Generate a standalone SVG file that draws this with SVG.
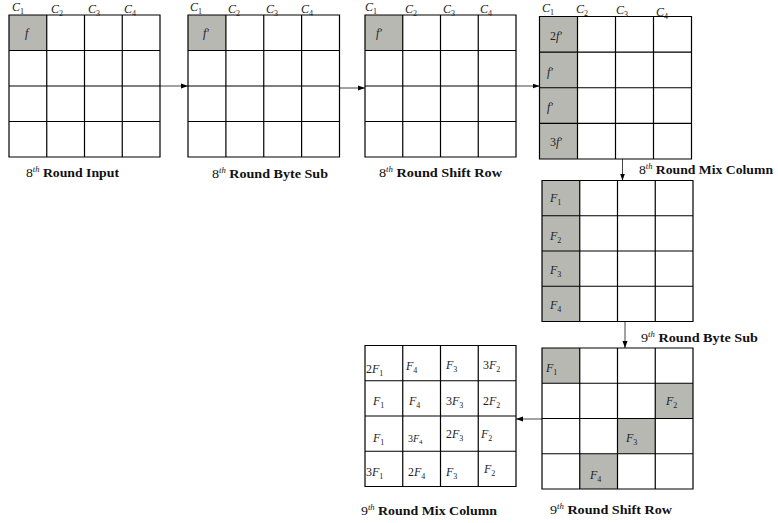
<svg xmlns="http://www.w3.org/2000/svg" width="778" height="523" viewBox="0 0 778 523" font-family="Liberation Serif, DejaVu Serif, serif">
<style>
.bg{fill:#ffffff}
.ln{fill:none;stroke:#000;stroke-width:1.2}
.sh{fill:#b7b8b2}
.conn{fill:none;stroke:#444;stroke-width:1}
.m{font-style:italic;font-size:12px;fill:#222}
.c{font-style:italic;font-size:12px;fill:#222}
.sub{font-size:8px;font-style:normal}
.num{font-style:normal}
.lab{font-size:13px;font-weight:bold;fill:#111}
.sup{font-size:8px;font-style:italic;font-weight:normal}
.n{font-weight:normal}
</style>
<defs>
<marker id="ah" markerWidth="7" markerHeight="6" refX="7" refY="3" orient="auto" markerUnits="userSpaceOnUse">
<path d="M0,0.5 L7,3 L0,5.5 Z" fill="#000"/>
</marker>
</defs>
<rect class="bg" x="0" y="0" width="778" height="523"/>

<g id="conn">
<line class="conn" x1="160" y1="86" x2="188" y2="86" marker-end="url(#ah)"/>
<line class="conn" x1="339.5" y1="88" x2="365" y2="88" marker-end="url(#ah)"/>
<line class="conn" x1="516" y1="86" x2="539.5" y2="86" marker-end="url(#ah)"/>
<line class="conn" x1="622.5" y1="159" x2="622.5" y2="180.5" marker-end="url(#ah)"/>
<line class="conn" x1="625" y1="321.5" x2="625" y2="348" marker-end="url(#ah)"/>
<line class="conn" x1="542" y1="419" x2="516" y2="419" marker-end="url(#ah)"/>
</g>

<g id="grid1">
<rect class="sh" x="9" y="15" width="37.75" height="35.5"/>
<path class="ln" d="M9,15H160V157H9Z M46.75,15V157 M84.5,15V157 M122.25,15V157 M9,50.5H160 M9,86H160 M9,121.5H160"/>
<text class="c" x="12" y="11">C<tspan class="sub" dy="2.5">1</tspan></text>
<text class="c" x="51" y="13">C<tspan class="sub" dy="2.5">2</tspan></text>
<text class="c" x="88" y="13">C<tspan class="sub" dy="2.5">3</tspan></text>
<text class="c" x="124" y="13">C<tspan class="sub" dy="2.5">4</tspan></text>
<text class="m" x="25" y="37">f</text>
<text class="lab" x="26" y="177" textLength="93" lengthAdjust="spacingAndGlyphs"><tspan class="n">8</tspan><tspan class="sup" dy="-5">th</tspan><tspan dy="5"> Round Input</tspan></text>
</g>

<g id="grid2">
<rect class="sh" x="188" y="15" width="37.9" height="35.5"/>
<path class="ln" d="M188,15H339.5V157H188Z M225.9,15V157 M263.75,15V157 M301.6,15V157 M188,50.5H339.5 M188,86H339.5 M188,121.5H339.5"/>
<text class="c" x="190" y="11">C<tspan class="sub" dy="2.5">1</tspan></text>
<text class="c" x="228" y="13">C<tspan class="sub" dy="2.5">2</tspan></text>
<text class="c" x="266" y="13">C<tspan class="sub" dy="2.5">3</tspan></text>
<text class="c" x="301" y="13">C<tspan class="sub" dy="2.5">4</tspan></text>
<text class="m" x="203" y="37">f′</text>
<text class="lab" x="212" y="178" textLength="116" lengthAdjust="spacingAndGlyphs"><tspan class="n">8</tspan><tspan class="sup" dy="-5">th</tspan><tspan dy="5"> Round Byte Sub</tspan></text>
</g>

<g id="grid3">
<rect class="sh" x="365" y="15" width="37.75" height="35.5"/>
<path class="ln" d="M365,15H516V157H365Z M402.75,15V157 M440.5,15V157 M478.25,15V157 M365,50.5H516 M365,86H516 M365,121.5H516"/>
<text class="c" x="365" y="11">C<tspan class="sub" dy="2.5">1</tspan></text>
<text class="c" x="405" y="13">C<tspan class="sub" dy="2.5">2</tspan></text>
<text class="c" x="443" y="13">C<tspan class="sub" dy="2.5">3</tspan></text>
<text class="c" x="480" y="13">C<tspan class="sub" dy="2.5">4</tspan></text>
<text class="m" x="376" y="37">f′</text>
<text class="lab" x="379" y="177" textLength="123" lengthAdjust="spacingAndGlyphs"><tspan class="n">8</tspan><tspan class="sup" dy="-5">th</tspan><tspan dy="5"> Round Shift Row</tspan></text>
</g>

<g id="grid4">
<rect class="sh" x="539.5" y="16.5" width="38" height="142.5"/>
<path class="ln" d="M539.5,16.5H691.5V159H539.5Z M577.5,16.5V159 M615.5,16.5V159 M653.5,16.5V159 M539.5,52.1H691.5 M539.5,87.75H691.5 M539.5,123.4H691.5"/>
<text class="c" x="542" y="12">C<tspan class="sub" dy="2.5">1</tspan></text>
<text class="c" x="576" y="13">C<tspan class="sub" dy="2.5">2</tspan></text>
<text class="c" x="616" y="14">C<tspan class="sub" dy="2.5">3</tspan></text>
<text class="c" x="656" y="16">C<tspan class="sub" dy="2.5">4</tspan></text>
<text class="m" x="550" y="40"><tspan class="num">2</tspan>f′</text>
<text class="m" x="547" y="76">f′</text>
<text class="m" x="547" y="111">f′</text>
<text class="m" x="550" y="146"><tspan class="num">3</tspan>f′</text>
<text class="lab" x="639" y="174" textLength="134" lengthAdjust="spacingAndGlyphs"><tspan class="n">8</tspan><tspan class="sup" dy="-5">th</tspan><tspan dy="5"> Round Mix Column</tspan></text>
</g>

<g id="grid5">
<rect class="sh" x="542" y="180.5" width="37.75" height="141"/>
<path class="ln" d="M542,180.5H693V321.5H542Z M579.75,180.5V321.5 M617.5,180.5V321.5 M655.25,180.5V321.5 M542,215.75H693 M542,251H693 M542,286.25H693"/>
<text class="m" x="550" y="202">F<tspan class="sub" dy="2.5">1</tspan></text>
<text class="m" x="550" y="240">F<tspan class="sub" dy="2.5">2</tspan></text>
<text class="m" x="550" y="274">F<tspan class="sub" dy="2.5">3</tspan></text>
<text class="m" x="550" y="309">F<tspan class="sub" dy="2.5">4</tspan></text>
<text class="lab" x="641" y="342" textLength="117" lengthAdjust="spacingAndGlyphs"><tspan class="n">9</tspan><tspan class="sup" dy="-5">th</tspan><tspan dy="5"> Round Byte Sub</tspan></text>
</g>

<g id="grid6">
<rect class="sh" x="542" y="348" width="37.75" height="35.25"/>
<rect class="sh" x="655.25" y="383.25" width="37.75" height="35.25"/>
<rect class="sh" x="617.5" y="418.5" width="37.75" height="35.25"/>
<rect class="sh" x="579.75" y="453.75" width="37.75" height="35.25"/>
<path class="ln" d="M542,348H693V489H542Z M579.75,348V489 M617.5,348V489 M655.25,348V489 M542,383.25H693 M542,418.5H693 M542,453.75H693"/>
<text class="m" x="546" y="372">F<tspan class="sub" dy="2.5">1</tspan></text>
<text class="m" x="666" y="405">F<tspan class="sub" dy="2.5">2</tspan></text>
<text class="m" x="626" y="442">F<tspan class="sub" dy="2.5">3</tspan></text>
<text class="m" x="590" y="479">F<tspan class="sub" dy="2.5">4</tspan></text>
<text class="lab" x="550" y="514" textLength="122" lengthAdjust="spacingAndGlyphs"><tspan class="n">9</tspan><tspan class="sup" dy="-5">th</tspan><tspan dy="5"> Round Shift Row</tspan></text>
</g>

<g id="grid7">
<path class="ln" d="M365,345.5H516V486.5H365Z M402.75,345.5V486.5 M440.5,345.5V486.5 M478.25,345.5V486.5 M365,380.75H516 M365,416H516 M365,451.25H516"/>
<text class="m" x="366" y="373"><tspan class="num">2</tspan>F<tspan class="sub" dy="2.5">1</tspan></text>
<text class="m" x="406" y="370">F<tspan class="sub" dy="2.5">4</tspan></text>
<text class="m" x="446" y="369">F<tspan class="sub" dy="2.5">3</tspan></text>
<text class="m" x="483" y="369"><tspan class="num">3</tspan>F<tspan class="sub" dy="2.5">2</tspan></text>
<text class="m" x="373" y="405">F<tspan class="sub" dy="2.5">1</tspan></text>
<text class="m" x="409" y="405">F<tspan class="sub" dy="2.5">4</tspan></text>
<text class="m" x="446" y="405"><tspan class="num">3</tspan>F<tspan class="sub" dy="2.5">3</tspan></text>
<text class="m" x="483" y="405"><tspan class="num">2</tspan>F<tspan class="sub" dy="2.5">2</tspan></text>
<text class="m" x="373" y="442">F<tspan class="sub" dy="2.5">1</tspan></text>
<text class="m" x="408" y="442" style="font-size:10px"><tspan class="num">3</tspan>F<tspan class="sub" dy="2" style="font-size:7px">4</tspan></text>
<text class="m" x="446" y="438"><tspan class="num">2</tspan>F<tspan class="sub" dy="2.5">3</tspan></text>
<text class="m" x="481" y="438">F<tspan class="sub" dy="2.5">2</tspan></text>
<text class="m" x="366" y="476"><tspan class="num">3</tspan>F<tspan class="sub" dy="2.5">1</tspan></text>
<text class="m" x="408" y="476"><tspan class="num">2</tspan>F<tspan class="sub" dy="2.5">4</tspan></text>
<text class="m" x="446" y="476">F<tspan class="sub" dy="2.5">3</tspan></text>
<text class="m" x="484" y="473">F<tspan class="sub" dy="2.5">2</tspan></text>
<text class="lab" x="361" y="515" textLength="136" lengthAdjust="spacingAndGlyphs"><tspan class="n">9</tspan><tspan class="sup" dy="-5">th</tspan><tspan dy="5"> Round Mix Column</tspan></text>
</g>
</svg>
